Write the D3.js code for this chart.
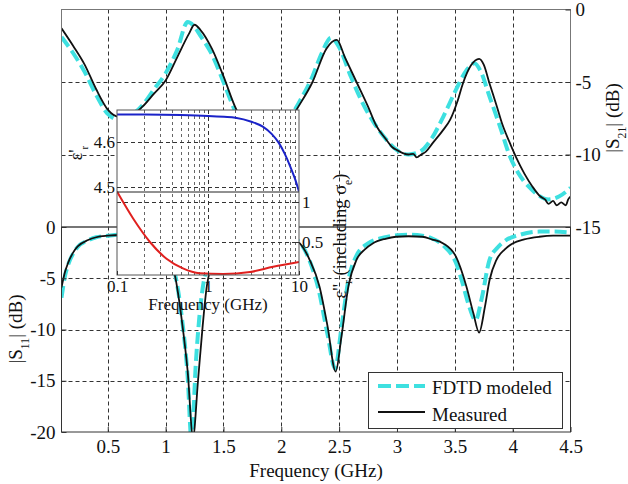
<!DOCTYPE html>
<html><head><meta charset="utf-8">
<script src="https://cdn.jsdelivr.net/npm/d3@7"></script>
<style>
html,body{margin:0;padding:0;background:#fff;}
</style></head>
<body><svg id="c" width="628" height="484"></svg>
<script>
// ---------------- DATA ----------------
const xTicks = [0.5,1,1.5,2,2.5,3,3.5,4,4.5];
const s21Ticks = [0,-5,-10,-15];
const s11Ticks = [0,-5,-10,-15,-20];

const s21MeasFreq = [0.1,0.2,0.3,0.4,0.5,0.6,0.7,0.8,0.9,1.0,1.1,1.2,1.25,1.3,1.4,1.5,1.6,1.7,1.85,2.0,2.14,2.27,2.39,2.48,2.55,2.65,2.75,2.82,2.9,2.96,3.0,3.05,3.1,3.14,3.17,3.21,3.25,3.31,3.4,3.46,3.52,3.57,3.64,3.71,3.75,3.8,3.86,3.91,3.97,4.03,4.1,4.17,4.24,4.28,4.31,4.35,4.38,4.42,4.46,4.48,4.5];
const s21Meas     = [-1.3,-2.5,-3.8,-5.5,-6.9,-7.4,-7.3,-6.7,-5.8,-4.9,-3.3,-1.7,-1.05,-1.4,-2.7,-4.6,-6.7,-8.2,-9.3,-8.6,-6.8,-5.0,-2.7,-2.1,-3.3,-5.0,-6.7,-8.0,-8.9,-9.5,-9.7,-9.9,-10.0,-9.95,-10.2,-10.0,-9.8,-9.2,-8.3,-7.6,-6.4,-5.1,-3.85,-3.4,-3.8,-5.1,-6.6,-7.9,-9.1,-10.2,-11.3,-12.2,-12.9,-13.1,-13.4,-13.2,-13.5,-13.3,-13.5,-13.1,-12.9];

const s21ModelFreq = [0.1,0.2,0.3,0.4,0.5,0.6,0.7,0.8,0.9,1.0,1.1,1.19,1.25,1.3,1.4,1.5,1.6,1.7,1.85,2.0,2.14,2.27,2.35,2.43,2.5,2.6,2.7,2.8,2.9,3.0,3.1,3.2,3.3,3.4,3.5,3.6,3.67,3.72,3.8,3.9,3.97,4.05,4.15,4.22,4.31,4.4,4.5];
const s21Model     = [-1.9,-3.0,-4.3,-5.9,-7.2,-7.6,-7.3,-6.6,-5.5,-4.4,-2.8,-0.87,-1.2,-1.8,-3.1,-5.0,-7.0,-8.5,-9.4,-8.4,-6.6,-4.6,-3.0,-1.95,-2.6,-4.6,-6.4,-7.8,-8.9,-9.7,-10.0,-9.8,-8.9,-7.4,-5.7,-4.2,-3.7,-4.2,-6.0,-8.3,-10.0,-11.3,-12.3,-12.8,-13.1,-12.9,-12.3];

const s11MeasFreq = [0.1,0.13,0.157,0.2,0.24,0.33,0.4,0.5,0.6,0.7,0.8,0.9,1.0,1.08,1.14,1.19,1.237,1.28,1.32,1.36,1.45,1.6,1.8,2.0,2.1,2.16,2.245,2.33,2.4,2.47,2.52,2.58,2.65,2.72,2.79,2.9,2.99,3.1,3.22,3.3,3.4,3.51,3.6,3.66,3.71,3.76,3.8,3.86,3.93,4.0,4.1,4.23,4.35,4.5];
const s11Meas     = [-5.9,-4.4,-3.5,-2.5,-1.9,-1.27,-1.0,-0.85,-0.78,-0.8,-1.0,-1.5,-2.6,-4.7,-9.1,-14.0,-20.5,-15.0,-9.7,-5.5,-2.6,-1.5,-1.1,-1.0,-1.2,-1.6,-3.2,-5.8,-9.7,-14.1,-10.7,-5.8,-3.2,-2.2,-1.6,-1.15,-0.95,-0.9,-0.95,-1.2,-1.6,-2.9,-5.8,-8.4,-10.3,-7.8,-5.2,-3.2,-2.2,-1.6,-1.2,-0.95,-0.85,-0.85];

const s11ModelFreq = [0.1,0.13,0.157,0.2,0.24,0.33,0.4,0.5,0.6,0.7,0.8,0.9,1.0,1.08,1.14,1.19,1.225,1.26,1.29,1.33,1.4,1.6,1.8,2.0,2.1,2.16,2.245,2.32,2.4,2.465,2.52,2.58,2.65,2.75,2.9,3.0,3.1,3.22,3.3,3.4,3.51,3.56,3.62,3.68,3.73,3.8,3.87,3.94,4.05,4.23,4.35,4.5];
const s11Model     = [-6.9,-4.8,-3.7,-2.6,-1.95,-1.3,-1.0,-0.85,-0.75,-0.78,-0.95,-1.4,-2.4,-4.5,-8.8,-14.5,-21.0,-13.5,-9.0,-5.3,-3.0,-1.5,-1.05,-0.95,-1.1,-1.5,-3.3,-6.0,-10.5,-13.8,-9.8,-5.2,-2.8,-1.6,-1.0,-0.8,-0.75,-0.85,-1.1,-1.8,-3.5,-5.2,-7.6,-9.1,-7.1,-3.2,-2.0,-1.3,-0.8,-0.45,-0.45,-0.55];

// inset: dielectric properties vs frequency (GHz, log)
const epsFreq = [0.1,0.2,0.5,1,1.5,2,3,4,5,6,7,8,9,10];
const epsReal = [4.661,4.661,4.660,4.658,4.656,4.654,4.645,4.634,4.618,4.598,4.573,4.546,4.519,4.490];
const epsImagFreq = [0.1,0.151,0.23,0.35,0.53,0.81,1.47,2.9,5.2,10];
const epsImag     = [1.13,0.79,0.50,0.29,0.17,0.11,0.10,0.125,0.19,0.25];
const insetXTicks = [0.1,1,10];
const insetMinor = [0.2,0.3,0.4,0.5,0.6,0.7,0.8,0.9,2,3,4,5,6,7,8,9];
const epsRealTicks = [4.5,4.6];
const epsImagTicks = [0.5,1];

// ---------------- DRAW ----------------
const FONT = "Liberation Serif";
const svg = d3.select("#c");
const CYAN = "#3ee0e0";
const L=61.5, R=570.5, T=9.5, MID=227, B=432;

const x = d3.scaleLinear().domain([0.1,4.5]).range([L,R]);
const yTop = d3.scaleLinear().domain([-15,0]).range([MID,T]);
const yBot = d3.scaleLinear().domain([-20,0]).range([B,MID]);

const defs = svg.append("defs");
defs.append("clipPath").attr("id","cpTop").append("rect").attr("x",L).attr("y",T).attr("width",R-L).attr("height",MID-T);
defs.append("clipPath").attr("id","cpBot").append("rect").attr("x",L).attr("y",MID).attr("width",R-L).attr("height",B-MID);

// grids
const grid = svg.append("g").attr("stroke","#333").attr("stroke-width",1).attr("stroke-dasharray","4,3");
xTicks.filter(d=>d<4.5).forEach(d=>{
  grid.append("line").attr("x1",Math.round(x(d))+0.5).attr("x2",Math.round(x(d))+0.5).attr("y1",T).attr("y2",B);
});
[-5,-10].forEach(d=>grid.append("line").attr("x1",L).attr("x2",R).attr("y1",Math.round(yTop(d))+0.5).attr("y2",Math.round(yTop(d))+0.5));
[-5,-10,-15].forEach(d=>grid.append("line").attr("x1",L).attr("x2",R).attr("y1",Math.round(yBot(d))+0.5).attr("y2",Math.round(yBot(d))+0.5));

function drawLine(freq, vals, y, clip, color, width, dash){
  const line = d3.line().x((d,i)=>x(freq[i])).y(d=>y(d)).curve(d3.curveMonotoneX);
  const p = svg.append("path").datum(vals).attr("d",line).attr("fill","none")
    .attr("stroke",color).attr("stroke-width",width).attr("clip-path",`url(#${clip})`)
    .attr("stroke-linejoin","round");
  if(dash) p.attr("stroke-dasharray",dash);
}
drawLine(s21ModelFreq,s21Model,yTop,"cpTop",CYAN,4,"12,5");
drawLine(s21MeasFreq,s21Meas,yTop,"cpTop","#111",1.8,null);
drawLine(s11ModelFreq,s11Model,yBot,"cpBot",CYAN,4,"12,5");
drawLine(s11MeasFreq,s11Meas,yBot,"cpBot","#111",1.8,null);

// frames
svg.append("rect").attr("x",L).attr("y",T).attr("width",R-L).attr("height",MID-T).attr("fill","none").attr("stroke","#777");
svg.append("rect").attr("x",L).attr("y",MID).attr("width",R-L).attr("height",B-MID).attr("fill","none").attr("stroke","#333");

function styleAxis(g,size){
  g.attr("font-family",FONT).attr("font-size",size);
  g.select(".domain").remove();
  g.selectAll(".tick line").attr("stroke","#333");
  g.selectAll(".tick text").attr("fill","#111");
}
const fmt = d=>String(d);
svg.append("g").attr("transform",`translate(0,${B})`)
  .call(d3.axisBottom(x).tickValues(xTicks).tickFormat(fmt).tickSize(-5).tickPadding(8))
  .call(g=>styleAxis(g,19));
svg.append("g").attr("transform",`translate(${L},0)`)
  .call(d3.axisLeft(yBot).tickValues(s11Ticks).tickFormat(fmt).tickSize(-5).tickPadding(6))
  .call(g=>styleAxis(g,19));
svg.append("g").attr("transform",`translate(${R},0)`)
  .call(d3.axisRight(yTop).tickValues(s21Ticks).tickFormat(fmt).tickSize(-5).tickPadding(5))
  .call(g=>styleAxis(g,19));

// axis titles
svg.append("text").attr("x",316).attr("y",477).attr("text-anchor","middle").attr("font-family",FONT).attr("font-size",19).attr("fill","#111").text("Frequency (GHz)");
function subLabel(tx,ty,main,sub,rest,size){
  const t = svg.append("text").attr("transform",`translate(${tx},${ty}) rotate(-90)`).attr("text-anchor","middle")
    .attr("font-family",FONT).attr("font-size",size).attr("fill","#111");
  t.append("tspan").text(main);
  t.append("tspan").attr("baseline-shift","sub").attr("font-size",size*0.62).text(sub);
  t.append("tspan").text(rest);
  return t;
}
subLabel(22,329,"|S","11","| (dB)",19);
subLabel(619,118,"|S","21","| (dB)",19);

// ---------------- INSET ----------------
const iL=117, iR=299, iT=110, iM=192, iB=275;
const xi = d3.scaleLog().domain([0.1,10]).range([iL,iR]);
const yR = d3.scaleLinear().domain([4.5,4.6]).range([187,142]);
const yI = d3.scaleLinear().domain([0.5,1]).range([242,202]);

svg.append("rect").attr("x",iL).attr("y",iT).attr("width",iR-iL).attr("height",iB-iT).attr("fill","#fff");
defs.append("clipPath").attr("id","cpIn").append("rect").attr("x",iL).attr("y",iT).attr("width",iR-iL).attr("height",iB-iT);

const ig = svg.append("g").attr("stroke-width",1);
insetMinor.forEach(d=>ig.append("line").attr("x1",Math.round(xi(d))+0.5).attr("x2",Math.round(xi(d))+0.5).attr("y1",iT).attr("y2",iB).attr("stroke","#666").attr("stroke-dasharray","3,3"));
ig.append("line").attr("x1",Math.round(xi(1))+0.5).attr("x2",Math.round(xi(1))+0.5).attr("y1",iT).attr("y2",iB).attr("stroke","#333").attr("stroke-dasharray","4,3");
epsRealTicks.forEach(d=>ig.append("line").attr("x1",iL).attr("x2",iR).attr("y1",Math.round(yR(d))+0.5).attr("y2",Math.round(yR(d))+0.5).attr("stroke","#333").attr("stroke-dasharray","4,3"));
epsImagTicks.forEach(d=>ig.append("line").attr("x1",iL).attr("x2",iR).attr("y1",Math.round(yI(d))+0.5).attr("y2",Math.round(yI(d))+0.5).attr("stroke","#333").attr("stroke-dasharray","4,3"));

svg.append("path").datum(epsReal).attr("clip-path","url(#cpIn)")
  .attr("d",d3.line().x((d,i)=>xi(epsFreq[i])).y(d=>yR(d)).curve(d3.curveMonotoneX))
  .attr("fill","none").attr("stroke","#1a22c8").attr("stroke-width",2);
svg.append("path").datum(epsImag).attr("clip-path","url(#cpIn)")
  .attr("d",d3.line().x((d,i)=>xi(epsImagFreq[i])).y(d=>yI(d)).curve(d3.curveMonotoneX))
  .attr("fill","none").attr("stroke","#e0201e").attr("stroke-width",2);

svg.append("line").attr("x1",iL).attr("x2",iR).attr("y1",iM).attr("y2",iM).attr("stroke","#222");
svg.append("rect").attr("x",iL).attr("y",iT).attr("width",iR-iL).attr("height",iB-iT).attr("fill","none").attr("stroke","#555");

svg.append("g").attr("transform",`translate(0,${iB})`)
  .call(d3.axisBottom(xi).tickValues(insetXTicks).tickFormat(fmt).tickSize(-4).tickPadding(5))
  .call(g=>styleAxis(g,17));
svg.append("g").attr("transform",`translate(${iL},0)`)
  .call(d3.axisLeft(yR).tickValues(epsRealTicks).tickFormat(d3.format(".1f")).tickSize(-4).tickPadding(2))
  .call(g=>styleAxis(g,17));
svg.append("g").attr("transform",`translate(${iR},0)`)
  .call(d3.axisRight(yI).tickValues(epsImagTicks).tickFormat(fmt).tickSize(-4).tickPadding(3))
  .call(g=>styleAxis(g,17));

svg.append("text").attr("x",208).attr("y",310).attr("text-anchor","middle").attr("font-family",FONT).attr("font-size",17).attr("fill","#111").text("Frequency (GHz)");
subLabel(82,153,"ε'","r","",18);
(function(){
  const t = svg.append("text").attr("transform","translate(346,236) rotate(-90)").attr("text-anchor","middle")
    .attr("font-family",FONT).attr("font-size",18.5).attr("fill","#111");
  t.append("tspan").text("ε''");
  t.append("tspan").attr("baseline-shift","sub").attr("font-size",11.5).text("r");
  t.append("tspan").text(" (including σ");
  t.append("tspan").attr("baseline-shift","sub").attr("font-size",11.5).text("e");
  t.append("tspan").text(")");
})();

// ---------------- LEGEND ----------------
const lg = svg.append("g").attr("font-family",FONT).attr("font-size",19);
lg.append("rect").attr("x",368.5).attr("y",372.5).attr("width",194).attr("height",56).attr("fill","#fff").attr("stroke","#333");
lg.append("line").attr("x1",378).attr("x2",425).attr("y1",386).attr("y2",386).attr("stroke",CYAN).attr("stroke-width",4).attr("stroke-dasharray","13,5");
lg.append("line").attr("x1",378).attr("x2",425).attr("y1",412).attr("y2",412).attr("stroke","#111").attr("stroke-width",1.8);
lg.append("text").attr("x",432).attr("y",394).attr("fill","#111").text("FDTD modeled");
lg.append("text").attr("x",432).attr("y",421).attr("fill","#111").text("Measured");
</script></body></html>
